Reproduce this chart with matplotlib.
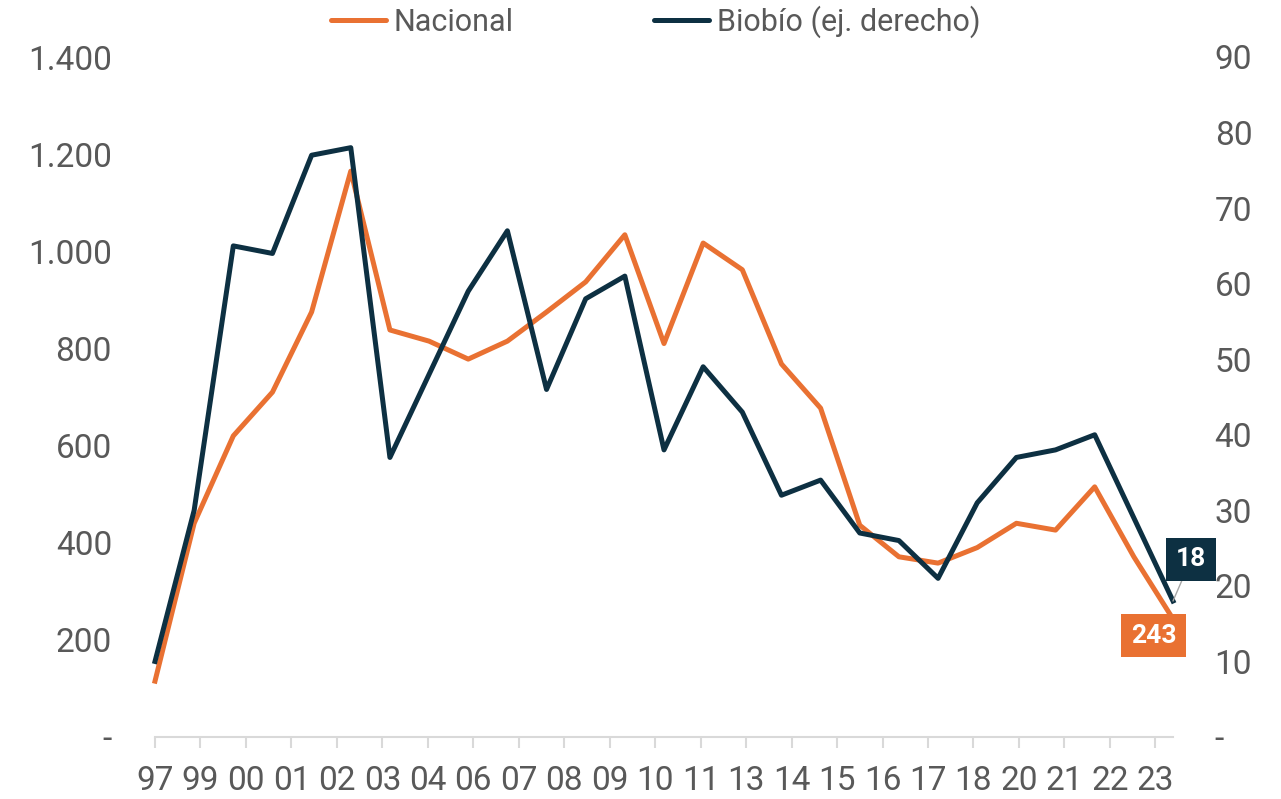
import matplotlib
matplotlib.use("Agg")
import matplotlib.pyplot as plt
import numpy as np

plt.rcParams["font.family"] = ["Roboto", "DejaVu Sans"]

# Years 1997-2023 (one point per year); axis shows 23 labels
tick_labels = ["97", "99", "00", "01", "02", "03", "04", "06", "07", "08", "09", "10",
               "11", "13", "14", "15", "16", "17", "18", "20", "21", "22", "23"]
nacional = [115, 440, 620, 710, 875, 1165, 838, 815, 778, 815, 875, 937, 1034, 810,
            1017, 962, 768, 677, 436, 371, 358, 390, 440, 426, 515, 371, 243]
biobio = [10, 30, 65, 64, 77, 78, 37, 48, 59, 67, 46, 58, 61, 38, 49, 43, 32, 34,
          27, 26, 21, 31, 37, 38, 40, 29, 18]

left_ticks = [0, 200, 400, 600, 800, 1000, 1200, 1400]
left_labels = ["-", "200", "400", "600", "800", "1.000", "1.200", "1.400"]
right_ticks = [0, 10, 20, 30, 40, 50, 60, 70, 80, 90]
right_labels = ["-"] + [str(v) for v in right_ticks[1:]]

orange = "#E97132"
navy = "#0D3042"
grey_txt = "#595959"
axis_grey = "#D9D9D9"

x = np.arange(len(nacional))

fig = plt.figure(figsize=(12.81, 7.99), dpi=100)
ax = fig.add_axes([155 / 1281, 1 - 737 / 799, (1173 - 155) / 1281, (737 - 57) / 799])
ax2 = ax.twinx()

ax.plot(x, nacional, color=orange, lw=3.6, clip_on=False, label="Nacional")
ax2.plot(x, biobio, color=navy, lw=3.6, clip_on=False, label="Biobío (ej. derecho)")

ax.set_xlim(0, len(x) - 1)
ax.set_ylim(0, 1400)
ax2.set_ylim(0, 90)

# category-style ticks spread evenly over the axis
ax.set_xticks(np.linspace(0, 25.55, len(tick_labels)))
ax.set_xticklabels(tick_labels)
ax.set_yticks(left_ticks)
ax.set_yticklabels(left_labels)
ax2.set_yticks(right_ticks)
ax2.set_yticklabels(right_labels)

for a in (ax, ax2):
    for s in ("top", "left", "right"):
        a.spines[s].set_visible(False)
    a.spines["bottom"].set_color(axis_grey)
    a.spines["bottom"].set_linewidth(1.5)
ax2.spines["bottom"].set_visible(False)

ax.tick_params(axis="x", colors=axis_grey, length=8, width=1.5, pad=12,
               labelsize=24, labelcolor=grey_txt)
ax.tick_params(axis="y", length=0, pad=31, labelsize=24, labelcolor=grey_txt)
ax2.tick_params(axis="y", length=0, pad=30, labelsize=24, labelcolor=grey_txt)

# data labels for the last values
ax.annotate(f"{nacional[-1]}", xy=(x[-1], nacional[-1]), xytext=(-14, -12),
            textcoords="offset points", ha="center", va="center",
            fontsize=19, fontweight="bold", color="white",
            bbox=dict(boxstyle="square,pad=0.36", fc=orange, ec="none"), zorder=5)
ax2.annotate(f"{biobio[-1]}", xy=(x[-1], biobio[-1]), xytext=(13, 30),
             textcoords="offset points", ha="center", va="center",
             fontsize=19, fontweight="bold", color="white",
             bbox=dict(boxstyle="square,pad=0.36", fc=navy, ec="none"),
             arrowprops=dict(arrowstyle="-", color="#A6A6A6", lw=1, shrinkA=0, shrinkB=0),
             zorder=5)

h1, l1 = ax.get_legend_handles_labels()
h2, l2 = ax2.get_legend_handles_labels()
leg = fig.legend(h1 + h2, l1 + l2, loc="center", bbox_to_anchor=(0.512, 1 - 22 / 799),
                 ncol=2, frameon=False, fontsize=22, handlelength=1.8,
                 handletextpad=0.25, columnspacing=4.6)
for t in leg.get_texts():
    t.set_color(grey_txt)
for ln in leg.get_lines():
    ln.set_solid_capstyle("round")

fig.savefig("out.png", dpi=100)
